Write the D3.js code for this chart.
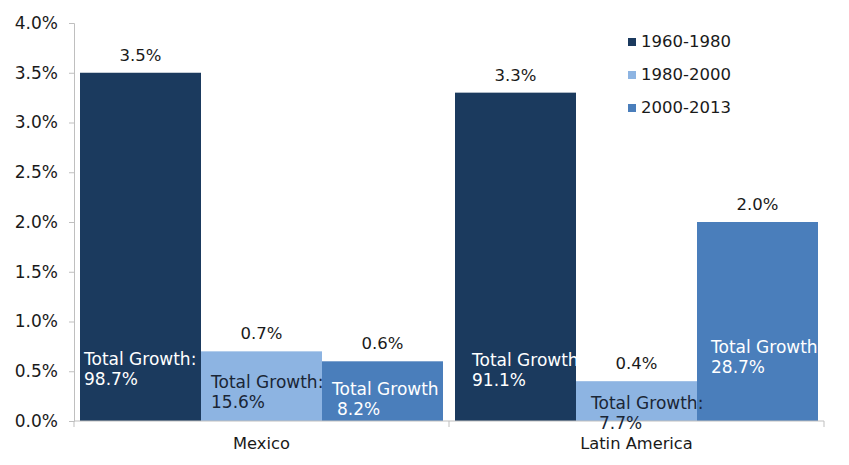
<!DOCTYPE html>
<html><head><meta charset="utf-8">
<script src="https://cdn.jsdelivr.net/npm/d3@7"></script>
<style>body{margin:0;background:#fff}svg{display:block}text{font-family:"DejaVu Sans",Verdana,sans-serif}</style>
</head><body><svg id="c" width="849" height="465"></svg>
<script>
const categories = ["Mexico", "Latin America"];
const periods = ["1960-1980", "1980-2000", "2000-2013"];
const growthRates = [[3.5, 0.7, 0.6], [3.3, 0.4, 2.0]];
const totalGrowth = [["98.7%", "15.6%", "8.2%"], ["91.1%", "7.7%", "28.7%"]];
const totalLabelText = [["Total Growth:", "Total Growth:", "Total Growth"], ["Total Growth", "Total Growth:", "Total Growth"]];
const yTicks = [0, 0.5, 1.0, 1.5, 2.0, 2.5, 3.0, 3.5, 4.0];

(function () {
const colors = ["#1b3a5e", "#8db4e2", "#4a7ebb"];
const innerText = ["#ffffff", "#1a2636", "#ffffff"];
const svg = d3.select("#c");
const mLeft = 74, mRight = 824, mTop = 23, mBottom = 421;

const y = d3.scaleLinear().domain([0, 4]).range([mBottom, mTop]);
const x0 = d3.scaleBand().domain(categories).range([mLeft, mRight]).paddingInner(0).paddingOuter(0);
const x1 = d3.scaleBand().domain(periods).range([6, x0.bandwidth() - 6]).padding(0);

// y axis
const ya = svg.append("g").attr("transform", `translate(${mLeft},0)`)
  .call(d3.axisLeft(y).tickValues(yTicks).tickFormat(d => d.toFixed(1) + "%").tickSize(5).tickPadding(11));
ya.select(".domain").attr("stroke", "#bfbfbf");
ya.selectAll(".tick line").attr("stroke", "#bfbfbf");
ya.selectAll(".tick text").attr("fill", "#1a1a1a").style("font-size", "17px").style("font-family", "'DejaVu Sans',Verdana,sans-serif");

const defs = svg.append("defs");
const data = [];
categories.forEach((c, ci) => periods.forEach((p, pi) => data.push({c, ci, p, pi, v: growthRates[ci][pi], t: totalGrowth[ci][pi], lab: totalLabelText[ci][pi]})));

data.forEach((d, i) => {
  defs.append("clipPath").attr("id", "cl" + i).append("rect")
    .attr("x", x0(d.c) + x1(d.p)).attr("y", 0).attr("width", x1.bandwidth()).attr("height", 465);
});

svg.append("g").selectAll("rect").data(data).join("rect")
  .attr("x", d => x0(d.c) + x1(d.p)).attr("y", d => y(d.v))
  .attr("width", x1.bandwidth()).attr("height", d => y(0) - y(d.v))
  .attr("fill", d => colors[d.pi]);

// x axis
const xa = svg.append("g").attr("transform", `translate(0,${mBottom})`);
xa.append("line").attr("x1", mLeft).attr("x2", mRight).attr("stroke", "#bfbfbf");
[mLeft, x0(categories[1]), mRight].forEach(px => xa.append("line").attr("x1", px).attr("x2", px).attr("y1", 0).attr("y2", 6).attr("stroke", "#bfbfbf"));
xa.selectAll("text.cat").data(categories).join("text").attr("class", "cat")
  .attr("x", d => x0(d) + x0.bandwidth() / 2).attr("y", 28)
  .attr("text-anchor", "middle").attr("fill", "#1a1a1a").style("font-size", "16.3px").text(d => d);

// value labels
svg.append("g").selectAll("text").data(data).join("text")
  .attr("x", d => x0(d.c) + x1(d.p) + x1.bandwidth() / 2).attr("y", d => y(d.v) - 12)
  .attr("text-anchor", "middle").attr("fill", "#1a1a1a").style("font-size", "16.5px")
  .text(d => d.v.toFixed(1) + "%");

// total growth labels
const offsets = [[{dx: 4, by: 365, dx2: 4}, {dx: 10, by: 388, dx2: 10}, {dx: 10, by: 395, dx2: 15}],
                 [{dx: 17, by: 366, dx2: 17}, {dx: 15, by: 409, dx2: 23}, {dx: 14, by: 353, dx2: 14}]];
const clipIt = [[false, false, true], [true, false, true]];
data.forEach((d, i) => {
  const o = offsets[d.ci][d.pi];
  const bx = x0(d.c) + x1(d.p);
  const g = svg.append("g");
  if (clipIt[d.ci][d.pi]) g.attr("clip-path", `url(#cl${i})`);
  g.append("text").attr("x", bx + o.dx).attr("y", o.by).attr("fill", innerText[d.pi]).style("font-size", "17px").text(d.lab);
  g.append("text").attr("x", bx + o.dx2).attr("y", o.by + 20).attr("fill", innerText[d.pi]).style("font-size", "17px").text(d.t);
});

// legend
const lg = svg.append("g").attr("transform", "translate(628,0)");
periods.forEach((p, i) => {
  const yy = 47 + i * 33;
  lg.append("rect").attr("x", 0).attr("y", yy - 9).attr("width", 8).attr("height", 8).attr("fill", colors[i]);
  lg.append("text").attr("x", 13).attr("y", yy).attr("fill", "#1a1a1a").style("font-size", "16.5px").text(p);
});
})();
</script></body></html>
